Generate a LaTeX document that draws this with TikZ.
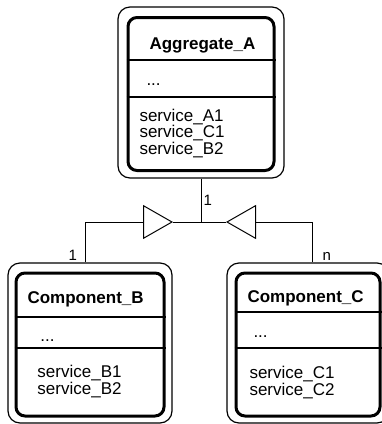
\documentclass[tikz,border=0pt]{standalone}
\usepackage{fontspec}
\setmainfont{Liberation Sans}
\usetikzlibrary{arrows.meta}

\begin{document}
\begin{tikzpicture}[x=1pt,y=-1pt,line width=1pt]
    \tikzstyle{outerbox}=[rectangle,draw,rounded corners=12pt,line width=1.2pt,inner sep=0pt]
    \tikzstyle{innerbox}=[rectangle,draw,rounded corners=9pt,line width=3pt,inner sep=0pt]
    \tikzstyle{sep}=[line width=1.3pt]
    \tikzstyle{title}=[anchor=base west,inner sep=0pt,font=\fontsize{17}{16.5}\selectfont\bfseries]
    \tikzstyle{body}=[anchor=base west,inner sep=0pt,align=left,font=\fontsize{17}{16.5}\selectfont]
    \tikzstyle{mult}=[anchor=base west,inner sep=0pt,font=\fontsize{15}{15}\selectfont]
    \tikzstyle{gen}=[-{Triangle[open,length=30pt,width=34pt]}]
    \useasboundingbox (0,0) rectangle (382,424);

    % class boxes: name/centre x/centre y/outer w/outer h/inner w/inner h
    \foreach \n/\x/\y/\ow/\oh/\iw/\ih in {A/201/92.5/166/171/146/153,
        B/90/343/164/160/148/143, C/308/343/162/160/144/143} {
        \node[outerbox,minimum width=\ow,minimum height=\oh] (\n o) at (\x,\y) {};
        \node[innerbox,minimum width=\iw,minimum height=\ih] (\n i) at (\x,\y+1.5) {};
    };

    % compartments
    \foreach \n/\ya/\yb in {A/60/97, B/317/348, C/312/348} {
        \draw[sep] (\n i.west |- 0,\ya) -- (\n i.east |- 0,\ya);
        \draw[sep] (\n i.west |- 0,\yb) -- (\n i.east |- 0,\yb);
    };

    % base = last line
    \node[title] (tA) at (149,49) {Aggregate\_A};
    \node[body] (dA) at (146,85) {...};
    \node[body] (sA) at (139,154) {service\_A1\\service\_C1\\service\_B2};

    \node[title] (tB) at (27,303) {Component\_B};
    \node[body] (dB) at (40,341) {...};
    \node[body] (sB) at (37,394) {service\_B1\\service\_B2};

    \node[title] (tC) at (247,302) {Component\_C};
    \node[body] (dC) at (253,337) {...};
    \node[body] (sC) at (249,395) {service\_C1\\service\_C2};

    % aggregation lines
    \coordinate (jL) at (85,222);
    \coordinate (jR) at (312,222);
    \coordinate (jA) at (201,222);
    \coordinate (tipL) at (173,222);
    \coordinate (tipR) at (226,222);

    \draw (Ao.south) -- (jA);
    \draw (tipL) -- (tipR);
    \draw[gen] (jL |- Bo.north) -- (jL) -- (tipL);
    \draw[gen] (jR |- Co.north) -- (jR) -- (tipR);

    \node[mult] (mA) at (203,205) {1};
    \node[mult] (mB) at (68,260) {1};
    \node[mult] (mC) at (322,260) {n};
\end{tikzpicture}
\end{document}
